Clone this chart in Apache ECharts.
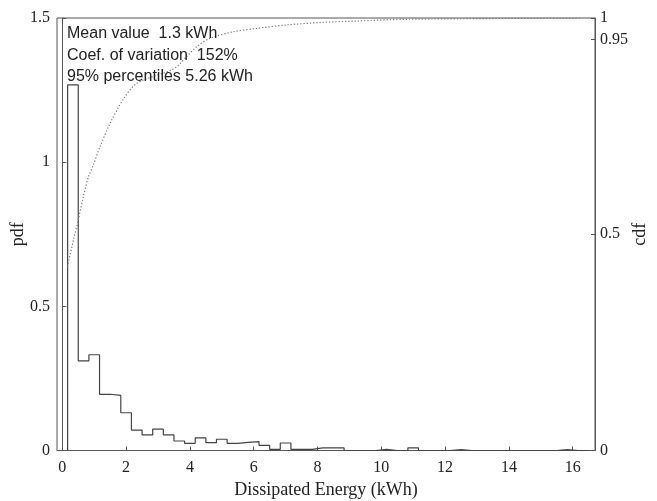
<!DOCTYPE html>
<html>
<head>
<meta charset="utf-8">
<script src="https://cdn.jsdelivr.net/npm/echarts@6.0.0/dist/echarts.min.js"></script>
<style>
  html, body { margin: 0; padding: 0; background: #fff; }
  #chart { width: 657px; height: 501px; }
</style>
</head>
<body>
<div id="chart"></div>
<script>
// histogram bins are 1/3 kWh wide, the first one centred on 1/3 kWh
const binWidth = 1 / 3;
const firstBinCenter = 1 / 3;
const pdfValues = [
  1.268, 0.311, 0.332, 0.195, 0.191, 0.131, 0.071, 0.054, 0.074, 0.054,
  0.033, 0.025, 0.044, 0.027, 0.039, 0.025, 0.028, 0.031, 0.018, 0.004,
  0.026, 0.004, 0.004, 0.009, 0.009, 0.009, 0, 0, 0, 0.004,
  0, 0, 0.009, 0, 0, 0, 0.003, 0, 0, 0,
  0, 0, 0, 0, 0, 0, 0.003, 0, 0
];
const cdfEnergy = [0.16, 0.35, 0.50, 0.66, 0.82, 0.97, 1.18, 1.50, 1.92, 2.34, 3.43, 3.64, 3.90, 4.22, 4.63, 5.35, 6.10, 7.04, 8.18, 9.23, 10.80, 16.30];
const cdfValues = [0.425, 0.487, 0.533, 0.587, 0.633, 0.660, 0.702, 0.757, 0.813, 0.849, 0.880, 0.891, 0.911, 0.934, 0.953, 0.968, 0.976, 0.984, 0.990, 0.993, 0.997, 1.0];
const xTicks = [0, 2, 4, 6, 8, 10, 12, 14, 16];
const pdfTicks = [0, 0.5, 1, 1.5];
const cdfTicks = [0, 0.5, 0.95, 1];
const statLines = ["Mean value  1.3 kWh", "Coef. of variation  152%", "95% percentiles 5.26 kWh"];

const serif = "'Liberation Serif', 'DejaVu Serif', serif";
const axisColor = "#555";

// stairs outline: one point per left bin edge, closed back to 0 at the end
const firstEdge = firstBinCenter - binWidth / 2;
const histPoints = [[firstEdge, 0]];
pdfValues.forEach((v, i) => histPoints.push([firstEdge + i * binWidth, v]));
histPoints.push([firstEdge + pdfValues.length * binWidth, 0]);

const cdfPoints = cdfEnergy.map((x, i) => [x, cdfValues[i]]);

const chart = echarts.init(document.getElementById("chart"));

const yAxisBase = {
  type: "value",
  min: 0,
  nameLocation: "middle",
  nameMoveOverlap: false,
  nameTextStyle: { fontFamily: serif, fontSize: 18, color: "#222" },
  axisLine: { show: true, lineStyle: { color: axisColor, width: 1 } },
  axisTick: { inside: true, length: 4, lineStyle: { color: axisColor } },
  axisLabel: { fontFamily: serif, fontSize: 16, color: "#222" },
  splitLine: { show: false }
};

chart.setOption({
  animation: false,
  grid: {
    left: 57, right: 62, top: 18, bottom: 50.5,
    outerBoundsMode: "none", containLabel: false,
    show: true, borderColor: axisColor, borderWidth: 1
  },
  title: {
    text: statLines.join("\n"),
    left: 62,
    top: 18,
    textStyle: { fontFamily: "'Liberation Sans', Arial, sans-serif", fontSize: 16, fontWeight: "normal", color: "#222", lineHeight: 21.5 }
  },
  xAxis: {
    type: "value",
    min: -1 / 6,
    max: 16.7,
    name: "Dissipated Energy (kWh)",
    nameLocation: "middle",
    nameGap: 31,
    nameTextStyle: { fontFamily: serif, fontSize: 18, color: "#222" },
    axisLine: { show: true, onZero: false, lineStyle: { color: axisColor, width: 1 } },
    axisTick: { inside: true, length: 4, customValues: xTicks, lineStyle: { color: axisColor } },
    axisLabel: { fontFamily: serif, fontSize: 16, color: "#222", margin: 9, customValues: xTicks },
    splitLine: { show: false }
  },
  yAxis: [
    Object.assign({}, yAxisBase, {
      position: "left",
      max: 1.5,
      name: "pdf",
      nameGap: 30,
      axisTick: Object.assign({}, yAxisBase.axisTick, { customValues: pdfTicks }),
      axisLabel: Object.assign({}, yAxisBase.axisLabel, { margin: 7, customValues: pdfTicks })
    }),
    Object.assign({}, yAxisBase, {
      position: "right",
      max: 1,
      name: "cdf",
      nameGap: 36,
      axisTick: Object.assign({}, yAxisBase.axisTick, { customValues: cdfTicks }),
      axisLabel: Object.assign({}, yAxisBase.axisLabel, { margin: 5, customValues: cdfTicks })
    })
  ],
  series: [
    {
      name: "pdf",
      type: "line",
      step: "end",
      data: histPoints,
      showSymbol: false,
      yAxisIndex: 0,
      lineStyle: { color: "#444", width: 1.2 }
    },
    {
      name: "cdf",
      type: "line",
      smooth: 0.3,
      data: cdfPoints,
      showSymbol: false,
      yAxisIndex: 1,
      lineStyle: { color: "#777", width: 1.2, type: [1.2, 2] }
    }
  ]
});
</script>
</body>
</html>
